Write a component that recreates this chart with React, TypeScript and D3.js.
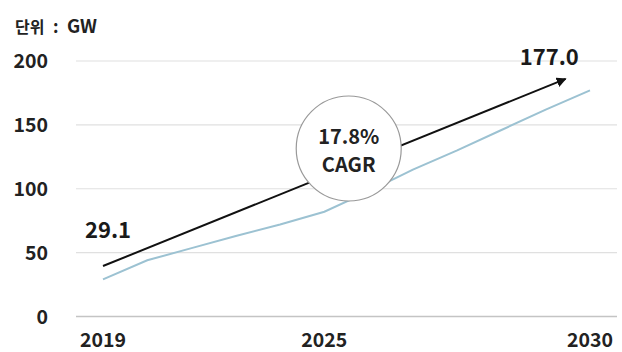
import React from "react";
import * as d3 from "d3";

const years = [2019, 2020, 2021, 2022, 2023, 2024, 2025, 2026, 2027, 2028, 2029, 2030];
const capacity = [29.1, 44, 53.5, 63, 72, 82, 98, 115, 130, 146, 162, 177.0];
const xTickIndex = [0, 5, 11];
const xTickLabels = ["2019", "2025", "2030"];
const yTicks = [0, 50, 100, 150, 200];
const unitWord = "단위";
const unitSep = ":";
const unitName = "GW";
const startLabel = "29.1";
const endLabel = "177.0";
const cagrLines = ["17.8%", "CAGR"];
// trend arrow in data space: [index, value]
const arrowStart: [number, number] = [0, 39.5];
const arrowEnd: [number, number] = [10.45, 186];

const W = 622;
const H = 352;
const FONT = "'Noto Sans CJK KR', 'Noto Sans', sans-serif";

export default function App() {
  const x = d3.scaleLinear().domain([0, years.length - 1]).range([103, 590]);
  const y = d3.scaleLinear().domain([0, 200]).range([316.5, 61]);
  const line = d3
    .line<number>()
    .x((_, i) => x(i))
    .y((d) => y(d));
  const gridX0 = 76;
  const gridX1 = 617;

  const ax0 = x(arrowStart[0]);
  const ay0 = y(arrowStart[1]);
  const ax1 = x(arrowEnd[0]);
  const ay1 = y(arrowEnd[1]);

  const cx = x(5.55);
  const cy = y(131.5);

  return (
    <svg
      width={W}
      height={H}
      style={{ position: "absolute", left: 0, top: 0, background: "#fff" }}
      fontFamily={FONT}
    >
      <defs>
        <marker
          id="arr"
          viewBox="0 0 10 10"
          refX="9"
          refY="5"
          markerWidth="5"
          markerHeight="5"
          orient="auto"
        >
          <path d="M0,0 L10,5 L0,10 z" fill="#111" />
        </marker>
      </defs>
      <rect width={W} height={H} fill="#fff" />
      <text y={33} fontWeight={700} fill="#222">
        <tspan x={15} fontSize={16}>{unitWord}</tspan>
        <tspan x={53} fontSize={17}>{unitSep}</tspan>
        <tspan x={67} fontSize={18.5}>{unitName}</tspan>
      </text>
      {yTicks.map((t) => (
        <g key={t}>
          <line
            x1={gridX0}
            x2={gridX1}
            y1={y(t)}
            y2={y(t)}
            stroke={t === 0 ? "#c4c4c4" : "#e0e0e0"}
            strokeWidth={t === 0 ? 1.5 : 1.2}
          />
          <text
            x={48}
            y={y(t)}
            dy="0.36em"
            textAnchor="end"
            fontSize={19.5}
            fontWeight={700}
            fill="#222"
          >
            {t}
          </text>
        </g>
      ))}
      {xTickIndex.map((idx, k) => (
        <text
          key={k}
          x={x(idx)}
          y={347}
          textAnchor="middle"
          fontSize={19.5}
          fontWeight={700}
          fill="#222"
        >
          {xTickLabels[k]}
        </text>
      ))}
      <path d={line(capacity) || ""} fill="none" stroke="#9cc2d2" strokeWidth={2} />
      <line
        x1={ax0}
        y1={ay0}
        x2={ax1}
        y2={ay1}
        stroke="#111"
        strokeWidth={2}
        markerEnd="url(#arr)"
      />
      <circle cx={cx} cy={cy} r={52.5} fill="#fff" stroke="#999" strokeWidth={1.2} />
      <text x={cx} y={cy - 5} textAnchor="middle" fontSize={20} fontWeight={700} fill="#222">
        {cagrLines[0]}
      </text>
      <text x={cx} y={cy + 23} textAnchor="middle" fontSize={20} fontWeight={700} fill="#222">
        {cagrLines[1]}
      </text>
      <text x={x(0) - 18} y={238} fontSize={22} fontWeight={700} fill="#1a1a1a">
        {startLabel}
      </text>
      <text x={x(10)} y={65} fontSize={22} fontWeight={700} fill="#1a1a1a" dx={-26}>
        {endLabel}
      </text>
    </svg>
  );
}
